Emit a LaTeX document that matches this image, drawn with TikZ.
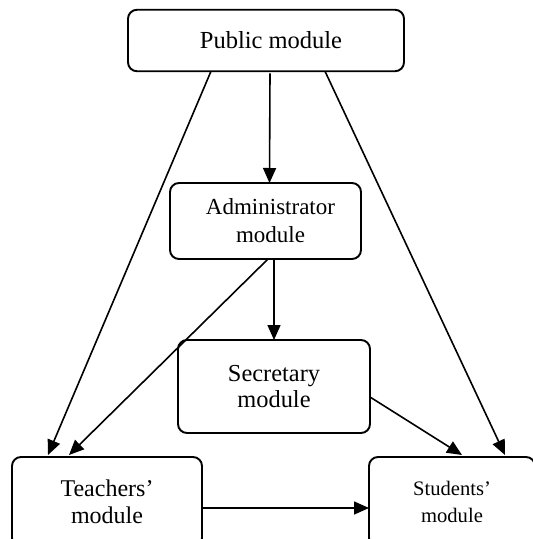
\documentclass[tikz,border=0pt]{standalone}
\usepackage{fontspec}
\setmainfont{Liberation Serif}
\usetikzlibrary{arrows.meta}
\begin{document}
\begin{tikzpicture}[x=1pt,y=-1pt,
  box/.style={draw,line width=1.9pt,rounded corners=9pt,inner sep=0pt,outer sep=0pt,align=center},
  conn/.style={line width=1.6pt,-{Triangle[length=15pt,width=13pt]}}]
\useasboundingbox (0,0) rectangle (533,539);
\node[box,minimum width=276pt,minimum height=61.5pt,font=\fontsize{24.5}{28}\selectfont] (pub) at (266,40.5) {\hspace*{10pt}Public module};
\node[box,minimum width=191pt,minimum height=76pt,font=\fontsize{23}{28}\selectfont] (adm) at (265.5,221) {\hspace*{10pt}Administrator\\\hspace*{10pt}module};
\node[box,minimum width=192pt,minimum height=93pt,font=\fontsize{24.4}{26.5}\selectfont] (sec) at (274,386.5) {Secretary\\module};
\node[box,minimum width=190pt,minimum height=90pt,font=\fontsize{24}{27}\selectfont] (tea) at (107,502) {Teachers’\\module};
\node[box,minimum width=166pt,minimum height=90pt,font=\fontsize{20.6}{27}\selectfont] (stu) at (452,502) {Students’\\module};
\draw[conn] ([xshift=-55pt]pub.south) -- ([xshift=-59pt,yshift=2pt]tea.north);
\draw[conn] ([xshift=4pt,yshift=-2pt]pub.south) -- ([xshift=4pt]adm.north);
\draw[conn] ([xshift=59pt]pub.south) -- ([xshift=53pt,yshift=2pt]tea.north -| stu.north);
\draw[conn] ([xshift=2.5pt]adm.south) -- ([xshift=-38pt,yshift=2pt]tea.north);
\draw[conn] ([xshift=8.5pt]adm.south) -- (sec.north);
\draw[conn] ([yshift=-10.5pt]sec.east) -- ([xshift=10pt,yshift=2pt]stu.north);
\draw[conn] ([yshift=-6pt]tea.east) -- ([yshift=-6pt]stu.west);
\end{tikzpicture}
\end{document}
